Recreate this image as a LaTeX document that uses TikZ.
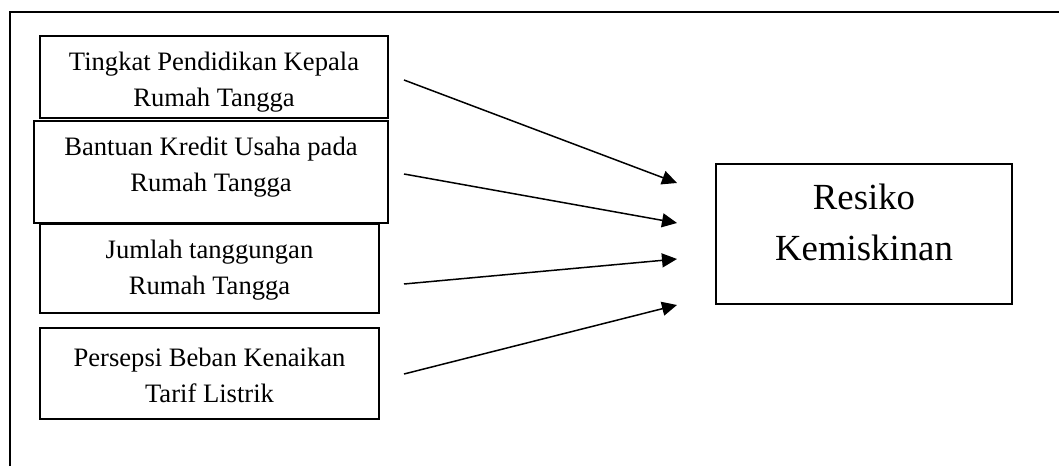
\documentclass[tikz,border=0pt]{standalone}
\usepackage{fontspec}
\setmainfont{Liberation Serif}
\usetikzlibrary{arrows.meta}
\begin{document}
\begin{tikzpicture}[x=1pt,y=1pt,
	box/.style={draw,line width=2pt,rectangle,inner sep=0pt},
	lbl/.style={align=center,inner sep=0pt,font=\fontsize{26.6}{36}\selectfont},
	big/.style={align=center,inner sep=0pt,font=\fontsize{36.8}{51}\selectfont},
	arr/.style={-{Triangle[length=15pt,width=14pt]},line width=1.5pt}]
	\useasboundingbox (0,0) rectangle (1059,466);
	% outer frame
	\draw[line width=2pt] (10,0) -- (10,454) -- (1059,454);
	% left boxes
	\node (b1) at (214,389) [box,minimum width=348pt,minimum height=82pt] {};
	\node (b2) at (211,294) [box,minimum width=354pt,minimum height=102pt] {};
	\node (b3) at (209.5,197.5) [box,minimum width=339pt,minimum height=89pt] {};
	\node (b4) at (209.5,92.5) [box,minimum width=339pt,minimum height=91pt] {};
	\node (t1) at ([yshift=-5pt]b1.center) [lbl] {Tingkat Pendidikan Kepala\\Rumah Tangga};
	\node (t2) at ([yshift=5pt]b2.center) [lbl] {Bantuan Kredit Usaha pada\\Rumah Tangga};
	\node (t3) at ([yshift=-1.5pt]b3.center) [lbl] {Jumlah tanggungan\\Rumah Tangga};
	\node (t4) at ([yshift=-1.5pt]b4.center) [lbl] {Persepsi Beban Kenaikan\\Tarif Listrik};
	% right box
	\node (res) at (864,232) [box,minimum width=296pt,minimum height=140pt] {};
	\node (tres) at ([yshift=11.5pt]res.center) [big] {Resiko\\Kemiskinan};
	% arrows
	\draw[arr] ([xshift=15pt,yshift=-3pt]b1.east) -- ([xshift=-38pt,yshift=51pt]res.west);
	\draw[arr] ([xshift=15pt,yshift=-2pt]b2.east) -- ([xshift=-38pt,yshift=11pt]res.west);
	\draw[arr] ([xshift=24pt,yshift=-15.5pt]b3.east) -- ([xshift=-38pt,yshift=-25pt]res.west);
	\draw[arr] ([xshift=24pt,yshift=-0.5pt]b4.east) -- ([xshift=-38pt,yshift=-71pt]res.west);
\end{tikzpicture}
\end{document}
